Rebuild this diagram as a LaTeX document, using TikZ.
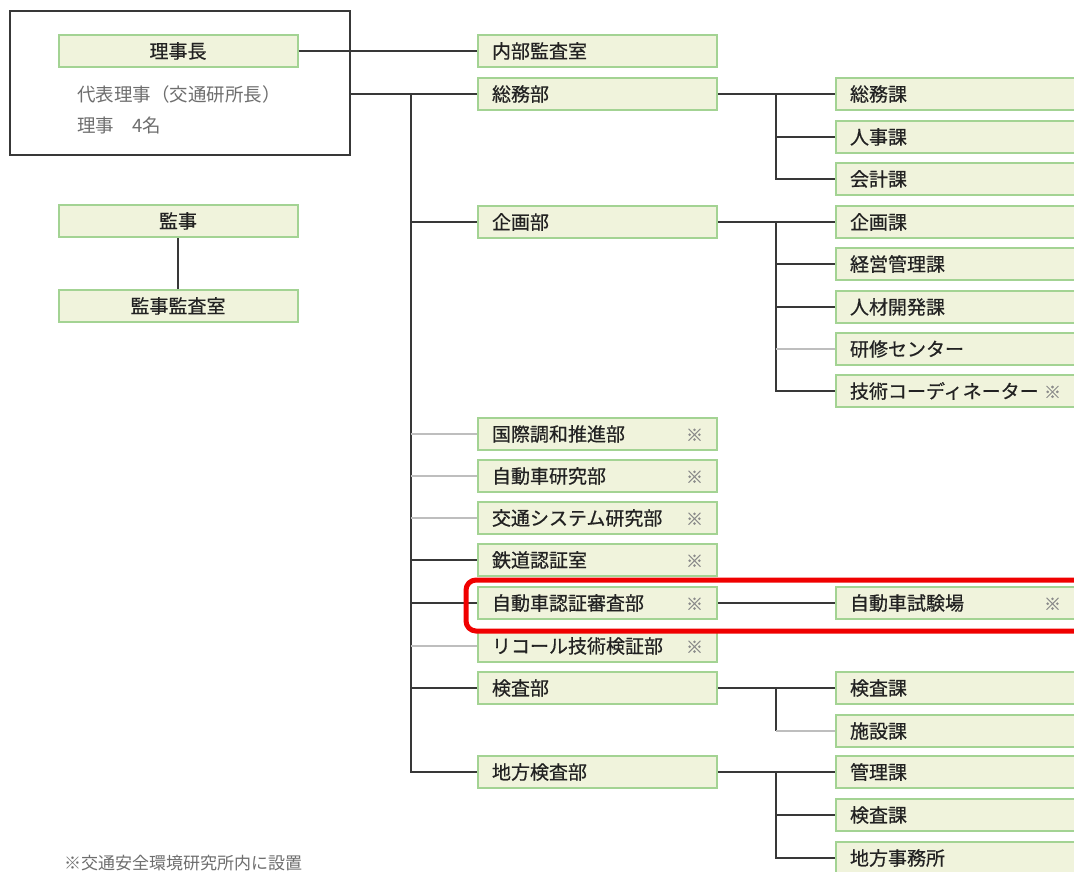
\documentclass[tikz,border=0pt]{standalone}
\usepackage{fontspec}
\setmainfont{Noto Sans CJK JP}
\newfontfamily\labelfont[FakeBold=0.6]{Noto Sans CJK JP}
\definecolor{boxgreen}{HTML}{A3D393}
\definecolor{boxfill}{HTML}{F0F3DC}
\definecolor{linedark}{HTML}{383838}
\definecolor{linegray}{HTML}{BEBEBE}
\definecolor{textdark}{HTML}{222222}
\definecolor{textgray}{HTML}{6E6E6E}
\definecolor{markgray}{HTML}{8A8A8A}
\definecolor{hlred}{HTML}{F00000}
\newcommand{\kome}{\hfill{\color{markgray}\fontsize{17}{17}\selectfont ※}}
\begin{document}
\begin{tikzpicture}[x=1pt,y=-1pt,
  box/.style={draw=boxgreen, line width=2pt, fill=boxfill, minimum height=32pt,
    minimum width=239pt, inner ysep=0pt, text=textdark,
    font=\labelfont\fontsize{19}{19}\selectfont},
  cbox/.style={box, inner xsep=0pt},
  lbox/.style={box, anchor=west, text width=211pt, inner xsep=14pt, align=left},
  conn/.style={draw=linedark, line width=1.8pt},
  conng/.style={draw=linegray, line width=1.8pt},
  graytext/.style={anchor=west, text=textgray, inner sep=0pt, font=\fontsize{18.5}{18.5}\selectfont}
]
\useasboundingbox (0,0) rectangle (1074,872);
\clip (0,0) rectangle (1074,872);
\fill[white] (0,0) rectangle (1074,872);

% board
\node[draw=linedark, line width=2pt, minimum width=340pt, minimum height=144pt, inner sep=0pt] (board) at (180,83) {};
\node[cbox] (chair) at (178,51) {理事長};
\node[graytext] (daihyo) at (77,94) {代表理事（交通研所長）};
\node[graytext] (riji) at (77,125) {理事　4名};

% auditor
\node[cbox] (kanji) at (178,221) {監事};
\node[cbox] (kansa) at (178,306) {監事監査室};
\draw[conn] (kanji.south) -- (kansa.north);

% middle column
\node[lbox] (naibu) at (477,51) {内部監査室};
\node[lbox] (somu) at (477,94) {総務部};
\node[lbox] (kikaku) at (477,222) {企画部};
\node[lbox] (kokusai) at (477,434) {国際調和推進部\kome};
\node[lbox] (jiken) at (477,476) {自動車研究部\kome};
\node[lbox] (kotsu) at (477,518) {交通システム研究部\kome};
\node[lbox] (tetsudo) at (477,560) {鉄道認証室\kome};
\node[lbox] (shinsa) at (477,603) {自動車認証審査部\kome};
\node[lbox] (recall) at (477,646) {リコール技術検証部\kome};
\node[lbox] (kensa) at (477,688) {検査部};
\node[lbox] (chiho) at (477,772) {地方検査部};

% right column
\node[lbox] (s1) at (835,94) {総務課};
\node[lbox] (s2) at (835,137) {人事課};
\node[lbox] (s3) at (835,179) {会計課};
\node[lbox] (k1) at (835,222) {企画課};
\node[lbox] (k2) at (835,264) {経営管理課};
\node[lbox] (k3) at (835,307) {人材開発課};
\node[lbox] (k4) at (835,349) {研修センター};
\node[lbox] (k5) at (835,391) {技術コーディネーター\kome};
\node[lbox] (test) at (835,603) {自動車試験場\kome};
\node[lbox] (e1) at (835,688) {検査課};
\node[lbox] (e2) at (835,731) {施設課};
\node[lbox] (c1) at (835,772) {管理課};
\node[lbox] (c2) at (835,815) {検査課};
\node[lbox] (c3) at (835,858) {地方事務所};

% top connectors
\draw[conn] (chair.east) -- (naibu.west);
\draw[conn] (board.east |- somu.west) -- (somu.west);

% trunk
\coordinate (tr) at (411,94);
\draw[conn] (tr) |- (chiho.west);
\draw[conn] (tr |- kikaku.west) -- (kikaku.west);
\draw[conng] (tr |- kokusai.west) -- (kokusai.west);
\draw[conng] (tr |- jiken.west) -- (jiken.west);
\draw[conng] (tr |- kotsu.west) -- (kotsu.west);
\draw[conn] (tr |- tetsudo.west) -- (tetsudo.west);
\draw[conn] (tr |- shinsa.west) -- (shinsa.west);
\draw[conng] (tr |- recall.west) -- (recall.west);
\draw[conn] (tr |- kensa.west) -- (kensa.west);

% 総務部
\coordinate (st1) at (776,94);
\draw[conn] (somu.east) -- (s1.west);
\draw[conn] (st1) |- (s3.west);
\draw[conn] (st1 |- s2.west) -- (s2.west);

% 企画部
\coordinate (st2) at (776,222);
\draw[conn] (kikaku.east) -- (k1.west);
\draw[conn] (st2) |- (k5.west);
\draw[conn] (st2 |- k2.west) -- (k2.west);
\draw[conn] (st2 |- k3.west) -- (k3.west);
\draw[conng] (st2 |- k4.west) -- (k4.west);

% 自動車認証審査部
\draw[conn] (shinsa.east) -- (test.west);

% 検査部
\coordinate (st3) at (776,688);
\draw[conn] (kensa.east) -- (e1.west);
\draw[conn] (st3) -- (st3 |- e2.west);
\draw[conng] (st3 |- e2.west) -- (e2.west);

% 地方検査部
\coordinate (st4) at (776,772);
\draw[conn] (chiho.east) -- (c1.west);
\draw[conn] (st4) |- (c3.west);
\draw[conn] (st4 |- c2.west) -- (c2.west);

% highlight
\draw[hlred, line width=5pt, rounded corners=10pt] (466,580) rectangle (1100,631);

% footnote
\node[anchor=west, text=textgray, inner sep=0pt, font=\fontsize{17}{17}\selectfont] (note) at (64,863) {※交通安全環境研究所内に設置};
\end{tikzpicture}
\end{document}
